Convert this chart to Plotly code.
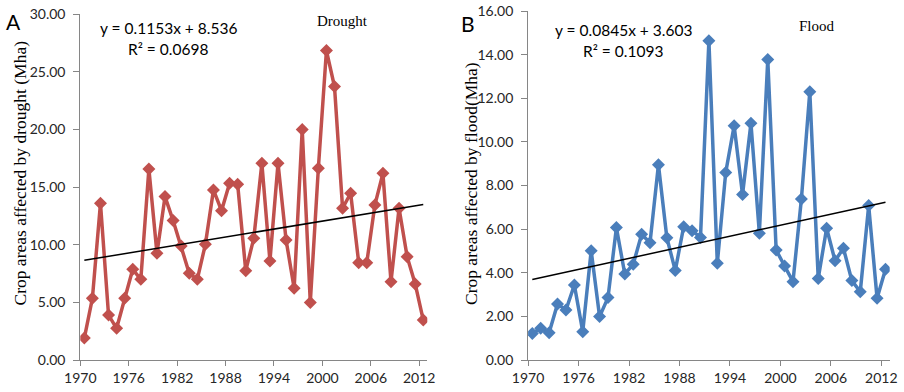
import plotly.graph_objects as go

years = list(range(1970, 2013))
drought = [1.9, 5.35, 13.6, 3.9, 2.75, 5.35, 7.87, 7.0, 16.58, 9.26,
           14.18, 12.1, 9.9, 7.52, 7.0, 10.04, 14.76, 12.96, 15.34, 15.25,
           7.75, 10.56, 17.07, 8.6, 17.07, 10.42, 6.22, 20.0, 5.0, 16.64,
           26.85, 23.73, 13.17, 14.47, 8.45, 8.45, 13.45, 16.2, 6.8, 13.17,
           8.97, 6.6, 3.47]
flood = [1.22, 1.45, 1.25, 2.57, 2.29, 3.44, 1.3, 5.01, 1.99, 2.86,
         6.07, 3.94, 4.39, 5.76, 5.38, 8.95, 5.61, 4.1, 6.11, 5.93,
         5.62, 14.64, 4.43, 8.6, 10.74, 7.59, 10.85, 5.81, 13.78, 5.04,
         4.31, 3.59, 7.38, 12.3, 3.74, 6.04, 4.55, 5.12, 3.64, 3.13,
         7.08, 2.83, 4.16]
drought_fit = (0.1153, 8.536)
flood_fit = (0.0845, 3.603)
xtick_labels = ["1970", "1976", "1982", "1988", "1994", "2000", "2006", "2012"]
xtick_pos = [1969.5 + 6 * i for i in range(len(xtick_labels))]

RED = "#C0504D"
BLUE = "#4A7EBB"
AXC = "#868686"
TXT = "#262626"
SANS = "Lato, 'Open Sans', sans-serif"
SERIF = "'Liberation Serif', 'Times New Roman', serif"

def trend(fit, n):
    a, b = fit
    return [a * (i + 1) + b for i in range(n)]

fig = go.Figure()
fig.add_trace(go.Scatter(x=years, y=drought, mode="lines+markers",
                         line=dict(color=RED, width=3.5),
                         marker=dict(symbol="diamond", size=10, color=RED),
                         xaxis="x", yaxis="y", showlegend=False))
fig.add_trace(go.Scatter(x=[years[0], years[-1]],
                         y=[trend(drought_fit, len(years))[0], trend(drought_fit, len(years))[-1]],
                         mode="lines", line=dict(color="black", width=1.5),
                         xaxis="x", yaxis="y", showlegend=False))
fig.add_trace(go.Scatter(x=years, y=flood, mode="lines+markers",
                         line=dict(color=BLUE, width=3.5),
                         marker=dict(symbol="diamond", size=10, color=BLUE),
                         xaxis="x2", yaxis="y2", showlegend=False))
fig.add_trace(go.Scatter(x=[years[0], years[-1]],
                         y=[trend(flood_fit, len(years))[0], trend(flood_fit, len(years))[-1]],
                         mode="lines", line=dict(color="black", width=1.5),
                         xaxis="x2", yaxis="y2", showlegend=False))

W, H = 904, 392
def px(xp):
    return xp / W
def py(yp):
    return 1 - yp / H

xcommon = dict(range=[1969.5, 2012.5], tickvals=xtick_pos, ticktext=xtick_labels,
               showgrid=False, zeroline=False, showline=True, linecolor=AXC, linewidth=1,
               ticks="outside", ticklen=5, tickcolor=AXC, tickwidth=1,
               tickfont=dict(family=SANS, size=14, color=TXT), automargin=False)
ycommon = dict(showgrid=False, zeroline=False, showline=True, linecolor=AXC, linewidth=1,
               ticks="outside", ticklen=6, tickcolor=AXC, tickwidth=1, tickformat=".2f",
               ticklabelstandoff=5,
               tickfont=dict(family=SANS, size=14, color=TXT), automargin=False)

fig.update_layout(
    width=W, height=H, margin=dict(l=0, r=0, t=0, b=0),
    paper_bgcolor="white", plot_bgcolor="white",
    xaxis=dict(domain=[px(80.3), px(427.3)], anchor="y", **xcommon),
    yaxis=dict(domain=[py(360), py(14.3)], range=[0, 30], dtick=5, anchor="x", **ycommon),
    xaxis2=dict(domain=[px(528.1), px(889.7)], anchor="y2", **xcommon),
    yaxis2=dict(domain=[py(360), py(11)], range=[0, 16], dtick=2, anchor="x2", **ycommon),
)

def ann(text, x, y, size, family, angle=0, color=TXT):
    fig.add_annotation(text=text, x=px(x), y=py(y), xref="paper", yref="paper",
                       showarrow=False, xanchor="center", yanchor="middle",
                       textangle=angle, font=dict(family=family, size=size, color=color))

ann("A", 13, 21, 21, SANS, color="black")
ann("B", 468, 24, 21, SANS, color="black")
ann("y = 0.1153x + 8.536", 168.5, 28, 15.5, SANS, color="black")
ann("R² = 0.0698", 168, 49, 15.5, SANS, color="black")
ann("y = 0.0845x + 3.603", 623.5, 30, 15.5, SANS, color="black")
ann("R² = 0.1093", 623, 51, 15.5, SANS, color="black")
ann("Drought", 342, 21, 15, SERIF, color="black")
ann("Flood", 817, 26, 15, SERIF, color="black")
ann("Crop areas affected by drought (Mha)", 19.5, 173, 17.5, SERIF, angle=-90, color="black")
ann("Crop areas affected by flood(Mha)", 471, 184, 17.5, SERIF, angle=-90, color="black")

fig.write_html("out.html")
